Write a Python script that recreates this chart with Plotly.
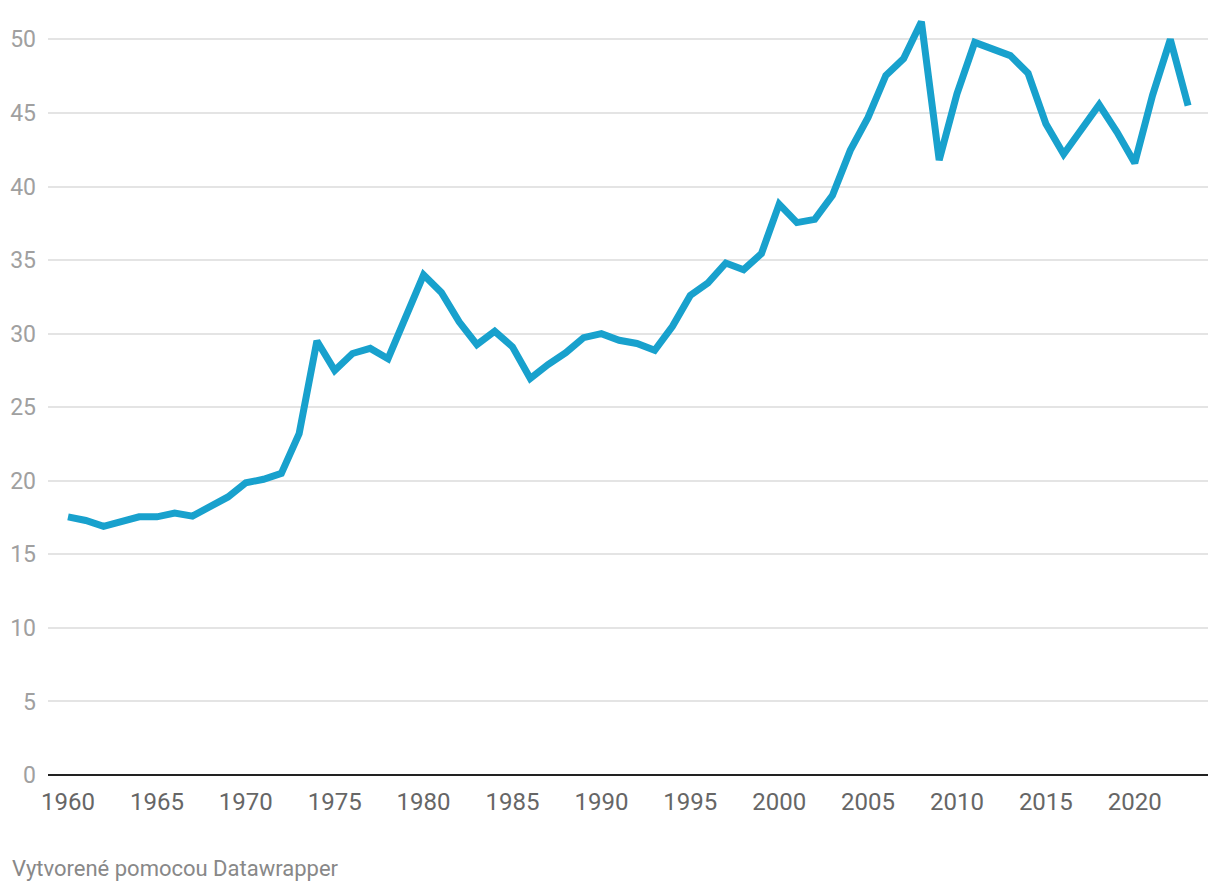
import plotly.graph_objects as go

years = list(range(1960, 2024))
values = [
    17.55, 17.3, 16.9, 17.2, 17.55, 17.55, 17.8, 17.6, 18.3, 18.9,
    19.86, 20.1, 20.5, 23.2, 29.5, 27.5, 28.65, 29.0, 28.3, 31.1,
    34.0, 32.8, 30.8, 29.26, 30.16, 29.1, 26.95, 27.9, 28.7, 29.73,
    30.0, 29.55, 29.33, 28.87, 30.5, 32.6, 33.45, 34.8, 34.35, 35.44,
    38.8, 37.55, 37.77, 39.4, 42.46, 44.7, 47.55, 48.7, 51.2, 41.8,
    46.3, 49.8, 49.3, 48.9, 47.7, 44.27, 42.2, 43.9, 45.56, 43.7,
    41.6, 46.2, 50.0, 45.5,
]
x_ticks = list(range(1960, 2021, 5))
y_ticks = list(range(0, 51, 5))
footer = "Vytvorené pomocou Datawrapper"

fig = go.Figure()
fig.add_trace(go.Scatter(
    x=years, y=values, mode="lines",
    line=dict(color="#18a1cd", width=7, shape="linear"),
    hoverinfo="x+y",
))

fig.update_layout(
    width=1220, height=892,
    margin=dict(l=40, r=20, t=2, b=125),
    paper_bgcolor="white", plot_bgcolor="white",
    showlegend=False,
    font=dict(family="Roboto", size=22),
    xaxis=dict(
        range=[1958.875, 2024.12],
        tickmode="array", tickvals=x_ticks,
        ticktext=[str(v) for v in x_ticks],
        showgrid=False, zeroline=False,
        showline=False, ticks="",
        tickfont=dict(family="Roboto", size=24, color="#666666"),
        ticklabelstandoff=10,
        fixedrange=True,
    ),
    yaxis=dict(
        range=[0, 52],
        tickmode="array", tickvals=y_ticks,
        ticktext=[str(v) for v in y_ticks],
        showgrid=True, gridcolor="#e4e4e4", gridwidth=1.5,
        zeroline=True, zerolinecolor="#222222", zerolinewidth=2,
        showline=False, ticks="",
        tickfont=dict(family="Roboto", size=23, color="#a0a0a0"),
        ticklabelstandoff=11,
        fixedrange=True,
    ),
    annotations=[dict(
        text=footer, xref="paper", yref="paper",
        x=0, y=0, xanchor="left", yanchor="middle",
        xshift=-38, yshift=-93, showarrow=False,
        font=dict(family="Roboto", size=22, color="#888888"),
    )],
)

fig.write_html("out.html")
